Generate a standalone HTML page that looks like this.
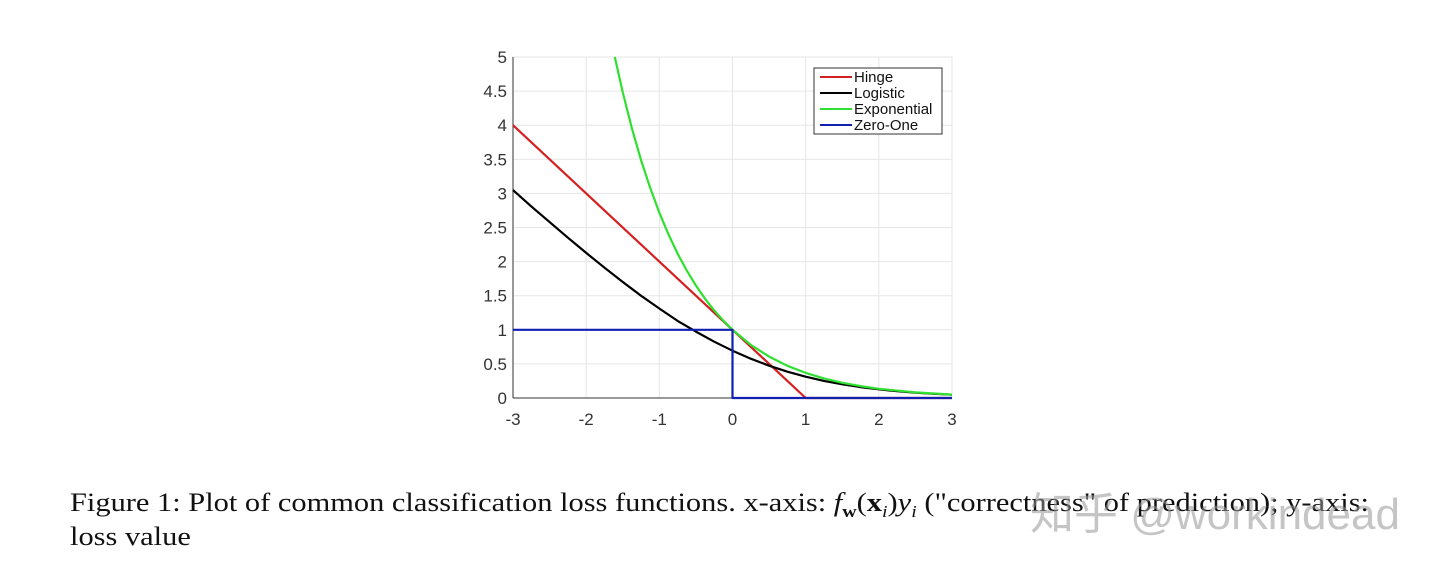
<!DOCTYPE html>
<html><head><meta charset="utf-8"><style>
body{margin:0;background:#fff;width:1440px;height:567px;overflow:hidden;position:relative}
.cap{position:absolute;left:70px;font-family:"Liberation Serif",serif;font-size:26px;color:#111;white-space:nowrap;transform:scaleX(1.17);transform-origin:0 0}
.wm{position:absolute;left:1030px;top:478px;font-family:"Liberation Sans","Noto Sans CJK SC",sans-serif;font-size:44px;color:rgba(150,150,150,0.55);white-space:nowrap}
</style></head><body>
<svg id="chart" width="1440" height="470" style="position:absolute;left:0;top:0" font-family="Liberation Sans, sans-serif"></svg>
<div class="cap" style="top:488px">Figure 1: Plot of common classification loss functions. x-axis: <i>f</i><sub style="font-size:17px"><b>w</b></sub>(<b>x</b><sub style="font-size:17px"><i>i</i></sub>)<i>y</i><sub style="font-size:17px"><i>i</i></sub> ("correctness" of prediction); y-axis:</div>
<div class="cap" style="top:522px">loss value</div>
<div class="wm">知乎 @workindead</div>
<script>
const xTicks=[-3,-2,-1,0,1,2,3];
const yTicks=[0,0.5,1,1.5,2,2.5,3,3.5,4,4.5,5];
const yTickLabels=["0","0.5","1","1.5","2","2.5","3","3.5","4","4.5","5"];
const hingeX=[-3,1,3];
const hingeY=[4,0,0];
const logX=[-3,-2.75,-2.5,-2.25,-2,-1.75,-1.5,-1.25,-1,-0.75,-0.5,-0.25,0,0.25,0.5,0.75,1,1.25,1.5,1.75,2,2.25,2.5,2.75,3];
const logY=[3.049,2.81,2.579,2.35,2.127,1.91,1.701,1.50,1.313,1.13,0.974,0.826,0.693,0.576,0.474,0.386,0.313,0.251,0.201,0.16,0.127,0.1,0.079,0.062,0.049];
const expX=[-1.609,-1.5,-1.375,-1.25,-1.125,-1,-0.875,-0.75,-0.625,-0.5,-0.375,-0.25,-0.125,0,0.25,0.5,0.75,1,1.25,1.5,1.75,2,2.5,3];
const expY=[5,4.48,3.955,3.49,3.08,2.718,2.399,2.117,1.868,1.649,1.455,1.284,1.133,1,0.779,0.607,0.472,0.368,0.287,0.223,0.174,0.135,0.082,0.050];
const zoX=[-3,0,0,3];
const zoY=[1,1,0,0];
const legendNames=["Hinge","Logistic","Exponential","Zero-One"];
const colors=["#d42020","#000","#30e030","#1020b0"];
const L=513,R=952,T=57,B=398;
const sx=v=>L+(v+3)/6*(R-L), sy=v=>B-v/5*(B-T);
const svg=document.getElementById('chart');const NS='http://www.w3.org/2000/svg';
function mk(t,a,p){const e=document.createElementNS(NS,t);for(const k in a)e.setAttribute(k,a[k]);(p||svg).appendChild(e);return e;}
mk('rect',{x:L,y:T,width:R-L,height:B-T,fill:'#fff',stroke:'#ddd'});
xTicks.forEach(v=>{
 const g=mk('line',{x1:sx(v),x2:sx(v),y1:T,y2:B,stroke:'#e6e6e6'});
 
 const t=mk('text',{x:sx(v),y:B+27,'text-anchor':'middle','font-size':17,fill:'#333'});t.textContent=v;
 
});
yTicks.forEach((v,i)=>{
 const g=mk('line',{x1:L,x2:R,y1:sy(v),y2:sy(v),stroke:'#e6e6e6'});
 
 const t=mk('text',{x:L-6,y:sy(v)+6,'text-anchor':'end','font-size':17,fill:'#333'});t.textContent=yTickLabels[i];
 
});
mk('line',{x1:L,x2:L,y1:T,y2:B,stroke:'#333'});mk('line',{x1:L,x2:R,y1:B,y2:B,stroke:'#333'});
const series=[[hingeX,hingeY,'hinge-line'],[logX,logY,'logistic-line'],[expX,expY,'exponential-line'],[zoX,zoY,'zero-one-line']];
series.forEach((s,i)=>{
 const pts=s[0].map((x,j)=>sx(x).toFixed(1)+','+sy(s[1][j]).toFixed(1)).join(' ');
 const p=mk('polyline',{points:pts,fill:'none',stroke:colors[i],'stroke-width':2.2,'stroke-linejoin':'round'});
 
});
const lg=mk('g',{});
mk('rect',{x:814,y:68,width:128,height:66,fill:'#fff',stroke:'#333'},lg);
legendNames.forEach((n,i)=>{
 const y=77+i*16;
 mk('line',{x1:820,x2:852,y1:y,y2:y,stroke:colors[i],'stroke-width':2},lg);
 const t=mk('text',{x:854,y:y+5,'font-size':15,fill:'#111'},lg);t.textContent=n;
 
});
</script>
</body></html>
